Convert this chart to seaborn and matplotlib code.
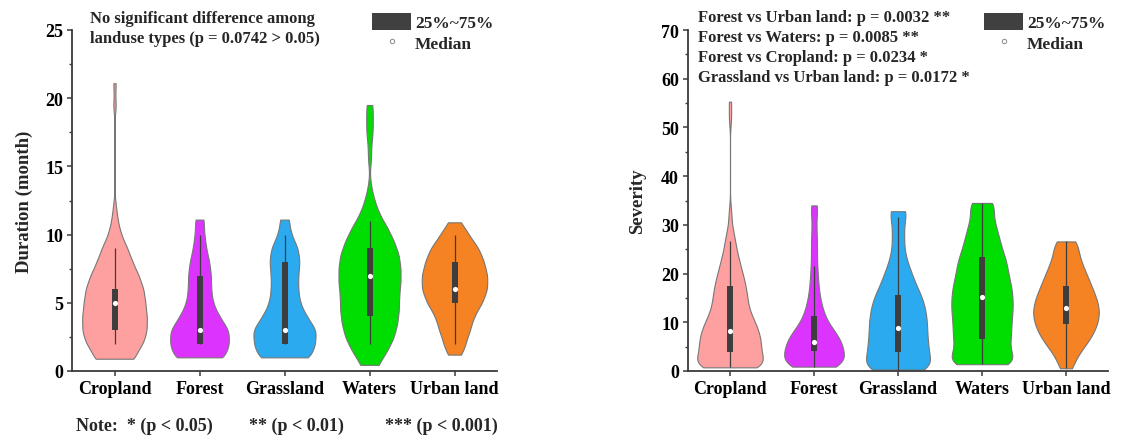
import numpy as np
import pandas as pd
import matplotlib
matplotlib.use("Agg")
import matplotlib.pyplot as plt
from matplotlib.patches import Patch
from matplotlib.lines import Line2D
from matplotlib.ticker import MultipleLocator
import seaborn as sns

# ---------------------------------------------------------------- data
landuse = ["Cropland", "Forest", "Grassland", "Waters", "Urban land"]
palette = ["#FFA0A0", "#DD33FF", "#2CAAF0", "#00DD00", "#F58223"]

# Drought duration (month): observed levels and number of events at each level
crop_dur_vals = [0.9, 2, 3, 4, 5, 6, 7, 8, 9, 10, 11, 12, 19.5, 21.1]
crop_dur_counts = [14, 18, 20, 20, 19, 18, 15, 11, 8, 4, 2, 1, 1, 1]
forest_dur_vals = [1, 2, 3, 4, 5, 6, 7, 8, 9, 10, 11.1]
forest_dur_counts = [16, 18, 18, 12, 8, 7, 7, 6, 4, 3, 3]
grass_dur_vals = [1, 2, 3, 4, 5, 6, 7, 8, 9, 10, 11.1]
grass_dur_counts = [16, 18, 19, 13, 9, 8, 8, 9, 8, 4, 3]
water_dur_vals = [0.45, 1.5, 2.5, 3.5, 4.5, 5.5, 6.5, 7.5, 8.5, 9.5, 10.5,
                  11.5, 12.5, 13.5, 15.5, 16.5, 17.5, 18.5, 19.5]
water_dur_counts = [6, 11, 15, 17, 18, 18, 19, 19, 18, 15, 11, 6, 3, 1, 1, 1, 2, 2, 2]
urban_dur_vals = [1.2, 2, 3, 4, 5, 6, 7, 8, 9, 10, 10.9]
urban_dur_counts = [3, 6, 9, 11, 16, 19, 19, 17, 14, 8, 3]

# Drought severity: observed levels and number of events at each level
crop_sev_vals = [0.75, 2.5, 5, 7.5, 10, 12.5, 15, 17.5, 20, 22.5, 25, 27.5, 30, 32.5, 52, 55.3]
crop_sev_counts = [18, 18, 20, 19, 16, 12, 11, 10, 8, 6, 4, 3, 1, 1, 1, 1]
forest_sev_vals = [0.9, 2.5, 5, 7.5, 10, 12.5, 15, 17.5, 20, 22.5, 25, 27.5, 30, 32.5, 34]
forest_sev_counts = [24, 38, 40, 32, 18, 12, 8, 6, 5, 4, 4, 4, 3, 3, 4]
grass_sev_vals = [0.3, 2.5, 5, 7.5, 10, 12.5, 15, 17.5, 20, 22.5, 25, 27.5, 30, 32.8]
grass_sev_counts = [20, 20, 20, 19, 19, 18, 16, 12, 9, 6, 4, 4, 4, 7]
water_sev_vals = [1.4, 2.5, 5, 7.5, 10, 12.5, 15, 17.5, 20, 22.5, 25, 27.5, 30, 32.5, 34.5]
water_sev_counts = [14, 16, 18, 19, 19, 20, 20, 19, 17, 16, 13, 11, 9, 6, 8]
urban_sev_vals = [0.55, 2.5, 5, 7.5, 10, 12.5, 15, 17.5, 20, 22.5, 25, 26.6]
urban_sev_counts = [3, 5, 11, 16, 19, 20, 18, 15, 12, 9, 6, 5]

# Box statistics (whisker low, Q1, median, Q3, whisker high)
dur_whisker_lo = [2, 2, 2, 2, 2]
dur_q1 = [3, 2, 2, 4, 5]
dur_median = [5, 3, 3, 7, 6]
dur_q3 = [6, 7, 8, 9, 8]
dur_whisker_hi = [9, 10, 10, 11, 10]

sev_whisker_lo = [0.75, 0.9, 0.3, 1.4, 0.55]
sev_q1 = [3.8, 4.2, 4.0, 6.6, 9.65]
sev_median = [8.3, 5.9, 8.8, 15.1, 12.9]
sev_q3 = [17.4, 11.2, 15.5, 23.3, 17.5]
sev_whisker_hi = [26.6, 21.5, 31.6, 34.5, 26.6]

dur_note = ["No significant difference among", "landuse types (p = 0.0742 > 0.05)"]
sev_note = ["Forest vs Urban land: p = 0.0032 **",
            "Forest vs Waters: p = 0.0085 **",
            "Forest vs Cropland: p = 0.0234 *",
            "Grassland vs Urban land: p = 0.0172 *"]
sig_note = ["Note:  * (p < 0.05)", "** (p < 0.01)", "*** (p < 0.001)"]

# ---------------------------------------------------------------- style
sns.set_theme(style="ticks")
SERIF = ["Liberation Serif", "DejaVu Serif"]
plt.rcParams["font.family"] = SERIF
plt.rcParams["font.weight"] = "bold"
plt.rcParams["axes.labelweight"] = "bold"

W, H = 1127, 439
fig = plt.figure(figsize=(W / 100, H / 100), dpi=100)


def px_box(x0, x1, y_top, y_bot):
    return [x0 / W, 1 - y_bot / H, (x1 - x0) / W, (y_bot - y_top) / H]


ax_d = fig.add_axes(px_box(72, 497, 31, 372))
ax_s = fig.add_axes(px_box(688, 1108, 31, 372))

box_color = "#3d3d3d"


def draw_panel(ax, samples, bw, widths, lo, q1, med, q3, hi):
    for i, (vals, counts) in enumerate(samples):
        y = np.repeat(np.asarray(vals, float), counts)
        df = pd.DataFrame({"landuse": landuse[i], "value": y})
        sns.violinplot(data=df, x="landuse", y="value", order=landuse,
                       color=palette[i], saturation=1, width=widths[i],
                       cut=0, inner=None, density_norm="width",
                       bw_method=bw / y.std(ddof=1), gridsize=300,
                       linewidth=0.8, linecolor="#777777", ax=ax)
    pos = np.arange(len(landuse))
    ax.vlines(pos, lo, hi, color=box_color, lw=0.9, zorder=3)
    ax.vlines(pos, q1, q3, color=box_color, lw=4.3, zorder=4, capstyle="butt")
    ax.scatter(pos, med, s=14, color="white", linewidths=0, zorder=5)
    ax.set_xlim(-0.5, len(landuse) - 0.5)
    ax.set_xlabel("")
    for side in ("top", "right"):
        ax.spines[side].set_visible(False)
    for side in ("left", "bottom"):
        ax.spines[side].set_color("#3a3a3a")
        ax.spines[side].set_linewidth(1.3)
    ax.tick_params(axis="both", which="major", length=3.6, width=1.1,
                   color="#3a3a3a", pad=2.8, labelsize=13, direction="out")
    ax.tick_params(axis="y", which="minor", length=2.2, width=1.0,
                   color="#3a3a3a", direction="out")
    for lab in ax.get_xticklabels() + ax.get_yticklabels():
        lab.set_fontweight("bold")
        lab.set_color("black")


draw_panel(ax_d,
           [(crop_dur_vals, crop_dur_counts), (forest_dur_vals, forest_dur_counts),
            (grass_dur_vals, grass_dur_counts), (water_dur_vals, water_dur_counts),
            (urban_dur_vals, urban_dur_counts)],
           0.6, [0.76, 0.69, 0.73, 0.73, 0.77],
           dur_whisker_lo, dur_q1, dur_median, dur_q3, dur_whisker_hi)
ax_d.set_ylim(0, 25)
ax_d.yaxis.set_major_locator(MultipleLocator(5))
ax_d.yaxis.set_minor_locator(MultipleLocator(2.5))
ax_d.set_ylabel("Duration (month)", fontsize=13.5, fontweight="bold")
ax_d.yaxis.set_label_coords(-0.092, 0.5)

draw_panel(ax_s,
           [(crop_sev_vals, crop_sev_counts), (forest_sev_vals, forest_sev_counts),
            (grass_sev_vals, grass_sev_counts), (water_sev_vals, water_sev_counts),
            (urban_sev_vals, urban_sev_counts)],
           1.8, [0.78, 0.71, 0.76, 0.73, 0.78],
           sev_whisker_lo, sev_q1, sev_median, sev_q3, sev_whisker_hi)
ax_s.set_ylim(0, 70)
ax_s.yaxis.set_major_locator(MultipleLocator(10))
ax_s.yaxis.set_minor_locator(MultipleLocator(5))
ax_s.set_ylabel("Severity", fontsize=13.5, fontweight="bold")
ax_s.yaxis.set_label_coords(-0.1, 0.5)

for lab in ax_d.get_yticklabels() + ax_s.get_yticklabels():
    lab.set_fontweight("bold")

# ---------------------------------------------------------------- legends
def add_legend(ax, x_px, y_px):
    handles = [Patch(facecolor="#404040", edgecolor="none"),
               Line2D([], [], marker="o", linestyle="none", markersize=3.2,
                      markerfacecolor="white", markeredgecolor="#888888",
                      markeredgewidth=0.7)]
    ax.legend(handles, ["25%~75%", "Median"], loc="upper left",
              bbox_to_anchor=(x_px / W, 1 - y_px / H),
              bbox_transform=fig.transFigure, frameon=False,
              handlelength=2.25, handleheight=1.1, handletextpad=0.23,
              labelspacing=0.15, borderpad=0, borderaxespad=0,
              prop={"family": SERIF, "weight": "bold", "size": 12.5})


add_legend(ax_d, 372, 14)
add_legend(ax_s, 984, 14)

# ---------------------------------------------------------------- text notes
txt = dict(family=SERIF, fontweight="bold", va="baseline", ha="left")
for k, line in enumerate(dur_note):
    fig.text(90 / W, 1 - (23.3 + 20 * k) / H, line, fontsize=12, **txt)
for k, line in enumerate(sev_note):
    fig.text(698 / W, 1 - (21.7 + 20.2 * k) / H, line, fontsize=12, **txt)
for x_px, line in zip([76, 249, 385], sig_note):
    fig.text(x_px / W, 1 - 430.7 / H, line, fontsize=13, **txt)

fig.savefig("out.png", dpi=100)
